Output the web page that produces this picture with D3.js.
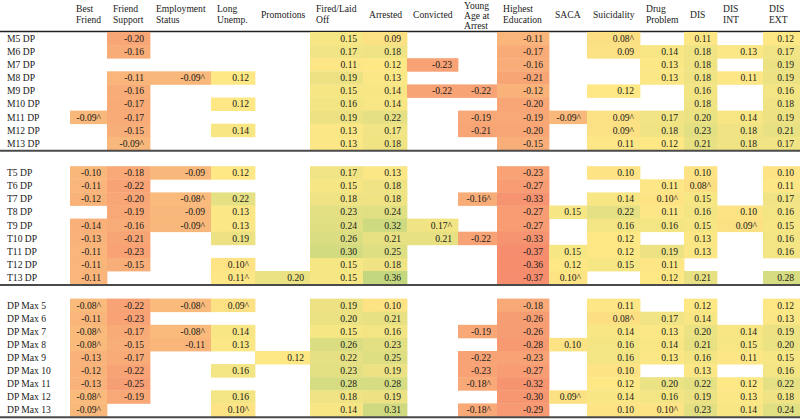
<!DOCTYPE html>
<html><head><meta charset="utf-8">
<script src="https://cdn.jsdelivr.net/npm/d3@7/dist/d3.min.js"></script>
<style>html,body{margin:0;padding:0;background:#fff;}svg{display:block;} text{font-family:"Liberation Serif","Times New Roman",Times,serif;}</style>
</head><body>
<svg id="chart" width="800" height="419"></svg>
<script>
// ---------- DATA ----------
const columns = ["Best\nFriend","Friend\nSupport","Employment\nStatus","Long\nUnemp.","Promotions","Fired/Laid\nOff","Arrested","Convicted","Young\nAge at\nArrest","Highest\nEducation","SACA","Suicidality","Drug\nProblem","DIS","DIS\nINT","DIS\nEXT"];

const rowsM = ["M5 DP","M6 DP","M7 DP","M8 DP","M9 DP","M10 DP","M11 DP","M12 DP","M13 DP"];
const valuesM = [
  ["","-0.20","","","","0.15","0.09","","","-0.11","","0.08^","","0.11","","0.12"],
  ["","-0.16","","","","0.17","0.18","","","-0.17","","0.09","0.14","0.18","0.13","0.17"],
  ["","","","","","0.11","0.12","-0.23","","-0.16","","","0.13","0.18","","0.19"],
  ["","-0.11","-0.09^","0.12","","0.19","0.13","","","-0.21","","","0.13","0.18","0.11","0.19"],
  ["","-0.16","","","","0.15","0.14","-0.22","-0.22","-0.12","","0.12","","0.16","","0.16"],
  ["","-0.17","","0.12","","0.16","0.14","","","-0.20","","","","0.18","","0.18"],
  ["-0.09^","-0.17","","","","0.19","0.22","","-0.19","-0.19","-0.09^","0.09^","0.17","0.20","0.14","0.19"],
  ["","-0.15","","0.14","","0.13","0.17","","-0.21","-0.20","","0.09^","0.18","0.23","0.18","0.21"],
  ["","-0.09^","","","","0.13","0.18","","","-0.15","","0.11","0.12","0.21","0.18","0.17"]
];

const rowsT = ["T5 DP","T6 DP","T7 DP","T8 DP","T9 DP","T10 DP","T11 DP","T12 DP","T13 DP"];
const valuesT = [
  ["-0.10","-0.18","-0.09","0.12","","0.17","0.13","","","-0.23","","0.10","","0.10","","0.10"],
  ["-0.11","-0.22","","","","0.15","0.18","","","-0.27","","","0.11","0.08^","","0.11"],
  ["-0.12","-0.20","-0.08^","0.22","","0.18","0.18","","-0.16^","-0.33","","0.14","0.10^","0.15","","0.17"],
  ["","-0.19","-0.09","0.13","","0.23","0.24","","","-0.27","0.15","0.22","0.11","0.16","0.10","0.16"],
  ["-0.14","-0.16","-0.09^","0.13","","0.24","0.32","0.17^","","-0.27","","0.16","0.16","0.15","0.09^","0.15"],
  ["-0.13","-0.21","","0.19","","0.26","0.21","0.21","-0.22","-0.33","","0.12","","0.13","","0.16"],
  ["-0.11","-0.23","","","","0.30","0.25","","","-0.37","0.15","0.12","0.19","0.13","","0.16"],
  ["-0.11","-0.15","","0.10^","","0.15","0.18","","","-0.36","0.12","0.15","0.11","","",""],
  ["-0.11","","","0.11^","0.20","0.15","0.36","","","-0.37","0.10^","","0.12","0.21","","0.28"]
];

const rowsDP = ["DP Max 5","DP Max 6","DP Max 7","DP Max 8","DP Max 9","DP Max 10","DP Max 11","DP Max 12","DP Max 13"];
const valuesDP = [
  ["-0.08^","-0.22","-0.08^","0.09^","","0.19","0.10","","","-0.18","","0.11","","0.12","","0.12"],
  ["-0.11","-0.23","","","","0.20","0.21","","","-0.26","","0.08^","0.17","0.14","","0.13"],
  ["-0.08^","-0.17","-0.08^","0.14","","0.15","0.16","","-0.19","-0.26","","0.14","0.13","0.20","0.14","0.19"],
  ["-0.08^","-0.15","-0.11","0.13","","0.26","0.23","","","-0.28","0.10","0.16","0.14","0.21","0.15","0.20"],
  ["-0.13","-0.17","","","0.12","0.22","0.25","","-0.22","-0.23","","0.16","0.13","0.16","0.11","0.15"],
  ["-0.12","-0.22","","0.16","","0.23","0.19","","-0.23","-0.27","","0.10","","0.13","","0.16"],
  ["-0.13","-0.25","","","","0.28","0.28","","-0.18^","-0.32","","0.12","0.20","0.22","0.12","0.22"],
  ["-0.08^","-0.19","","0.16","","0.18","0.19","","","-0.30","0.09^","0.14","0.16","0.19","0.13","0.18"],
  ["-0.09^","","","0.10^","","0.14","0.31","","-0.18^","-0.29","","0.10","0.10^","0.23","0.14","0.24"]
];

// ---------- LAYOUT ----------
const W = 800, H = 419;
const labelW = 70;
const colWidths = [37,43,61,44,55,53,44,51,39,52,38,53,44,33,46,37];
const rowH = 13.1;
const groupTops = [32, 166.2, 298.6];
const FS = 9.6;

const svg = d3.select("#chart");

const edges = [labelW];
colWidths.forEach(w => edges.push(edges[edges.length-1] + w));
const xLeft = d3.scaleOrdinal().domain(columns).range(edges.slice(0,-1));
const xRight = d3.scaleOrdinal().domain(columns).range(edges.slice(1));

const color = d3.scaleLinear()
  .domain([-0.37,-0.20,-0.08,0.12,0.22,0.36])
  .range(["#F68D6E","#F8A676","#F9BA7B","#FDE885","#E5E083","#C3D77E"])
  .clamp(true);

// header
const header = svg.append("g");
columns.forEach(c => {
  const lines = c.split("\n");
  const lh = lines.length > 2 ? 10 : 10.9;
  const mid = lines.length > 2 ? 18.6 : 17.8;
  const start = mid - (lines.length-1)*lh/2;
  const t = header.append("text")
    .attr("font-size", FS).attr("fill","#1a1a1a");
  lines.forEach((ln,i) => {
    t.append("tspan").attr("x", xLeft(c)+6).attr("y", start + i*lh).text(ln);
  });
});
svg.append("line").attr("x1",0).attr("x2",W).attr("y1",31.5).attr("y2",31.5)
  .attr("stroke","#222").attr("stroke-width",1.3);

const groups = [[rowsM,valuesM],[rowsT,valuesT],[rowsDP,valuesDP]];
groups.forEach(([rows, vals], gi) => {
  const top = groupTops[gi];
  const y = d3.scaleBand().domain(rows).range([top, top + rows.length*rowH]);
  const g = svg.append("g");
  rows.forEach((r, ri) => {
    g.append("text").attr("x",7).attr("y", y(r)+y.bandwidth()/2+3.4)
      .attr("font-size",FS).attr("fill","#1a1a1a").text(r);
    vals[ri].forEach((v, ci) => {
      if (!v) return;
      const c = columns[ci];
      const num = parseFloat(v);
      g.append("rect").attr("x", xLeft(c)).attr("y", y(r))
        .attr("width", xRight(c)-xLeft(c)+0.4).attr("height", y.bandwidth()+0.4)
        .attr("fill", color(num));
    });
  });
  rows.forEach((r, ri) => {
    vals[ri].forEach((v, ci) => {
      if (!v) return;
      const c = columns[ci];
      g.append("text").attr("x", xRight(c)-6).attr("y", y(r)+y.bandwidth()/2+3.4)
        .attr("text-anchor","end").attr("font-size",FS)
        .attr("fill","#1a1a1a").text(v);
    });
  });
  const bottom = top + rows.length*rowH;
  svg.append("line").attr("x1",0).attr("x2",W).attr("y1",bottom+0.8).attr("y2",bottom+0.8)
    .attr("stroke","#4a4a4a").attr("stroke-width",2);
});
</script>
</body></html>
